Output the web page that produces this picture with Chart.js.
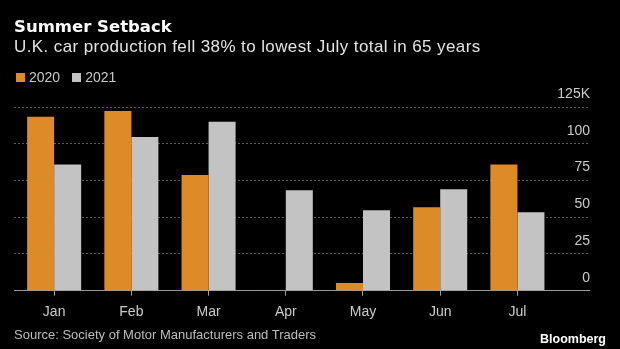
<!DOCTYPE html>
<html lang="en">
<head>
<meta charset="UTF-8">
<title>Summer Setback</title>
<style>
    html, body { margin: 0; padding: 0; background: #000; }
    #wrap { position: relative; width: 620px; height: 349px; overflow: hidden; background: #000;
            font-family: "Liberation Sans", Arial, sans-serif; }
    #chart { position: absolute; left: 0; top: 0; }
    .txt { position: absolute; white-space: nowrap; line-height: 1; }
    #title { left: 14px; top: 19px; font-family: "DejaVu Sans", sans-serif; font-weight: bold; font-size: 16.5px; color: #fff; }
    #subtitle { left: 14px; top: 38px; font-size: 17px; letter-spacing: 0.4px; color: #e4e4e4; }
    #legend { left: 16px; top: 70px; font-size: 14px; color: #c8c8c8; }
    #legend span.item { display: inline-block; margin-right: 12px; }
    #legend i { display: inline-block; width: 9px; height: 9px; margin-right: 4px; vertical-align: 0; }
    #source { left: 14px; top: 328px; font-size: 13px; color: #bdbdbd; }
    #brand { right: 14px; top: 333px; font-weight: bold; font-size: 12.5px; color: #fff; }
</style>
</head>
<body>
<div id="wrap">
    <canvas id="chart" width="620" height="349"></canvas>
    <div id="title" class="txt">Summer Setback</div>
    <div id="subtitle" class="txt">U.K. car production fell 38% to lowest July total in 65 years</div>
    <div id="legend" class="txt"></div>
    <div id="source" class="txt">Source: Society of Motor Manufacturers and Traders</div>
    <div id="brand" class="txt">Bloomberg</div>
</div>

<script src="https://cdn.jsdelivr.net/npm/chart.js@4/dist/chart.umd.min.js"></script>
<script>
    // monthly UK car output, thousands of units
    var months = ['Jan', 'Feb', 'Mar', 'Apr', 'May', 'Jun', 'Jul'];
    var output2020 = [118.4, 122.3, 78.8, 0.2, 5.3, 56.8, 85.8];
    var output2021 = [85.8, 104.6, 115.0, 68.4, 54.8, 69.0, 53.4];
    var yTicks = [0, 25, 50, 75, 100, 125];

    var orange = '#dc8b28';
    var grey = '#c3c3c3';

    function points(values) {
        return values.map(function (v, i) { return {x: i, y: v}; });
    }

    var ctx = document.getElementById('chart').getContext('2d');
    var theChart = new Chart(ctx, {
        type: 'bar',
        data: {
            datasets: [
                {label: '2020', data: points(output2020), backgroundColor: orange},
                {label: '2021', data: points(output2021), backgroundColor: grey}
            ]
        },
        options: {
            responsive: false,
            animation: false,
            layout: {padding: {left: 14, right: 30, top: 107, bottom: 20.5}},
            datasets: {bar: {categoryPercentage: 0.7, barPercentage: 1}},
            plugins: {
                legend: {display: false},
                tooltip: {enabled: false}
            },
            scales: {
                x: {
                    type: 'linear',
                    min: -0.52,
                    max: 6.94,
                    offset: false,
                    border: {display: false},
                    grid: {offset: false, drawOnChartArea: false, drawTicks: true, tickLength: 5, tickWidth: 1,
                           tickColor: '#a0a0a0', color: '#a0a0a0'},
                    ticks: {
                        stepSize: 1,
                        includeBounds: false,
                        autoSkip: false,
                        padding: 8,
                        color: '#cccccc',
                        font: {family: 'Liberation Sans', size: 14},
                        callback: function (v) { return months[v] || ''; }
                    }
                },
                y: {
                    position: 'right',
                    min: 0,
                    max: 125,
                    afterBuildTicks: function (scale) {
                        scale.ticks = yTicks.map(function (v) { return {value: v}; });
                    },
                    border: {
                        display: false,
                        dash: function (c) { return c.tick && c.tick.value === 0 ? [] : [2, 2]; }
                    },
                    grid: {
                        drawTicks: false,
                        color: function (c) { return c.tick && c.tick.value === 0 ? '#9a9a9a' : '#5c5c5c'; }
                    },
                    ticks: {
                        mirror: true,
                        padding: 0,
                        labelOffset: -13,
                        color: '#cccccc',
                        font: {family: 'Liberation Sans', size: 14},
                        callback: function (v) { return v === 125 ? '125K' : v; }
                    }
                }
            }
        }
    });

    // legend row from the datasets
    var legend = document.getElementById('legend');
    theChart.data.datasets.forEach(function (ds) {
        legend.innerHTML += '<span class="item"><i style="background:' + ds.backgroundColor + '"></i>' + ds.label + '</span>';
    });
</script>
</body>
</html>
